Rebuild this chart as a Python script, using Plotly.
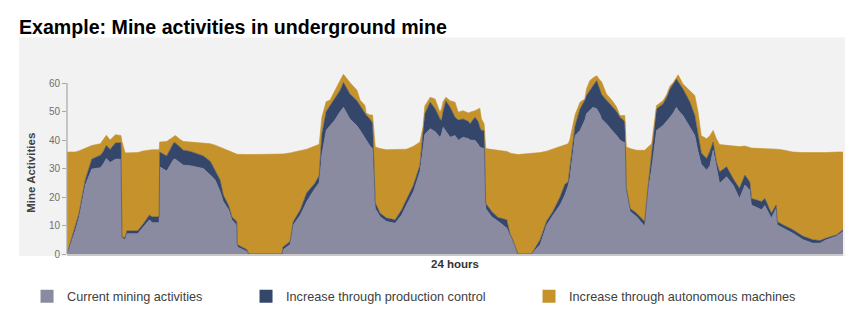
import numpy as np
import plotly.graph_objects as go

# Time of day (minutes over the 24 hours)
minutes = [0, 15, 22, 34, 46, 62, 67, 73, 80, 90, 100, 102, 108, 111, 131, 142, 153, 158, 171, 172,
           185, 198, 201, 210, 216, 229, 253, 266, 275, 284, 290, 300, 306, 315, 316, 334, 337, 399, 401, 414,
           420, 433, 445, 460, 468, 473, 481, 488, 497, 507, 513, 525, 538, 544, 553, 555, 562, 567, 572, 581,
           593, 609, 621, 630, 643, 655, 661, 664, 674, 683, 692, 695, 698, 703, 711, 720, 726, 735, 745, 748,
           757, 763, 766, 769, 774, 777, 788, 800, 816, 822, 825, 837, 862, 878, 890, 902, 915, 924, 930, 933,
           943, 952, 961, 964, 970, 976, 983, 989, 992, 1001, 1014, 1020, 1026, 1032, 1035, 1038, 1045, 1057, 1072, 1078,
           1085, 1094, 1106, 1113, 1119, 1125, 1131, 1134, 1143, 1156, 1165, 1171, 1177, 1187, 1193, 1199, 1205, 1211, 1224, 1236,
           1248, 1258, 1267, 1270, 1289, 1295, 1307, 1316, 1318, 1329, 1347, 1366, 1384, 1397, 1409, 1428, 1440]

# Current mining activities (level)
current = [0, 8, 12.6, 24.2, 29.8, 30.3, 31.5, 33.5, 32.1, 33.3, 33.3, 5.6, 5, 7.1, 7.1, 9.7, 12, 11, 11, 30.6,
           29.1, 33.3, 33.3, 32, 31.2, 31, 30, 27.7, 26, 22, 18.4, 15.5, 12, 10, 2.5, 0.9, 0, 0, 1.5, 3.3,
           10.2, 13.7, 18.4, 23, 25, 35, 43.4, 45, 47, 50, 51.5, 47.4, 45, 43.4, 40.5, 40, 38, 37, 16, 13.1,
           11.4, 10.8, 13.7, 17.2, 21.9, 29, 38, 42, 44, 43, 41, 42, 44.5, 43, 41, 41.6, 39.9, 41, 40.5, 40,
           39.9, 38.5, 37.6, 37.3, 37, 16, 13.1, 11.5, 9.1, 6.5, 5.6, 0, 0, 3.3, 10.2, 13.7, 17.2, 20.7, 24, 26.5,
           41.6, 43.4, 47, 49.2, 50.5, 51.5, 51, 49, 47.4, 45.7, 42.8, 41.6, 40, 39.3, 39.3, 21.9, 14.9, 13.1, 9.7, 22,
           30, 43.4, 45.1, 46.5, 48, 49.5, 51.5, 50.5, 48.6, 44.5, 41.6, 36, 31.5, 29.4, 31, 36.4, 30, 24.8, 27.1, 24.2,
           19.5, 24.2, 22.4, 17.2, 15.5, 17, 12.6, 16, 10.2, 9.1, 7.3, 5, 3.8, 3.8, 5, 6.2, 7.9]

# Level including the increase through production control
with_control = [0, 9, 14, 26, 33.3, 34.7, 35.8, 38.1, 36.7, 39, 39, 5.9, 5.8, 8.1, 8.1, 10.7, 13.7, 13, 13, 35.8,
                34.4, 39, 39, 37.5, 36.4, 36, 34.4, 32.5, 29.4, 26, 20.7, 17, 13, 11.4, 3.3, 1.5, 0, 0, 2.5, 4.4,
                11.4, 15.5, 21.5, 24.8, 27.5, 42, 50, 52, 54.4, 57.5, 60.2, 56.2, 53.8, 52, 49.2, 48.8, 47.4, 46, 18, 14.3,
                12.6, 12, 15.5, 19, 24.2, 31.2, 42, 49.2, 53.3, 51, 47.5, 46.9, 50, 53.8, 51.5, 48, 47, 47.4, 46.5, 45.7,
                48, 46.5, 44.5, 43.4, 43.4, 17.8, 14.9, 12.8, 12, 7, 6, 0, 0, 5, 11.5, 15, 20, 24.5, 25.3, 30,
                45, 50.9, 54, 55.6, 57.5, 59, 60.8, 57.3, 56, 54, 51, 50, 48, 46.9, 46.5, 23, 16, 14.3, 11.4, 23,
                34.7, 50.9, 52.7, 55, 57.9, 59.5, 61.4, 60.5, 57.9, 53.3, 48.6, 42, 35.5, 33.5, 36, 39.3, 32.3, 28.8, 30.6, 26.5,
                23, 27.7, 25.3, 19.5, 18.4, 19.5, 14.3, 17.2, 11.4, 10.2, 8.5, 6.2, 5, 4.7, 5.6, 6.7, 8.5]

# Level including the increase through autonomous machines
with_autonomous = [35.8, 35.8, 36.2, 37.2, 38.1, 38.7, 40, 41.7, 40, 41.9, 41.6, 39.5, 35.5, 35.5, 35.6, 36.2, 36.6, 36.6, 36.6, 39.3,
                   39.5, 41, 41.6, 40.2, 39.5, 39.3, 38.9, 38.7, 38.2, 37.5, 37, 36.3, 35.8, 35.2, 35, 34.9, 34.9, 35, 35.1, 35.5,
                   35.8, 36.2, 36.8, 37.9, 38.5, 48, 53.5, 54, 57.5, 61, 63.1, 60.2, 57.5, 54, 52.1, 49.5, 48.8, 48.8, 37.6, 37,
                   36.6, 36.6, 36.6, 36.8, 37.8, 39.3, 45, 52, 55, 54.4, 49.8, 51, 53.5, 55, 53.8, 53.3, 49.8, 50.3, 49.5, 49.8,
                   50.3, 51, 51.2, 47.4, 45.7, 37, 36.7, 36.4, 36, 35.5, 35.3, 34.9, 35.2, 35.6, 36.1, 36.8, 37.6, 38.2, 38.7, 40,
                   49, 53.3, 54.4, 57.9, 60.8, 61.8, 62.6, 61, 60.5, 56.2, 53.3, 51.5, 48.6, 48.6, 48.6, 37.6, 37, 36.4, 36.4, 37.5,
                   38.7, 52.1, 53.8, 56, 59, 60.2, 62, 62.9, 59.7, 57.3, 55.6, 49.8, 41.5, 40.5, 41.5, 43.4, 40.5, 38.4, 38.2, 37.9,
                   37.7, 37.9, 37.2, 37.2, 37, 37, 37, 37, 36.8, 36.5, 35.8, 35.6, 35.5, 35.5, 35.6, 35.8, 35.8]

series_names = ["Current mining activities",
                "Increase through production control",
                "Increase through autonomous machines"]
series_colors = ["#8a8aa1", "#34476b", "#c5922b"]
y_ticks = [0, 10, 20, 30, 40, 50, 60]

cur = np.array(current)
ctl = np.array(with_control)
aut = np.array(with_autonomous)
layers = [cur, np.round(ctl - cur, 2), np.round(aut - ctl, 2)]

FONT = "Liberation Sans, Arial, sans-serif"

fig = go.Figure()
for name, vals, col in zip(series_names, layers, series_colors):
    fig.add_trace(go.Scatter(
        x=minutes, y=vals, name=name, stackgroup="one", mode="lines",
        line=dict(color=col, width=0.6), fillcolor=col, showlegend=False,
        hoverinfo="skip"))

legend_ids = ["legend", "legend2", "legend3"]
legend_x = [-0.0515, 0.2307, 0.5954]
for name, col, lid in zip(series_names, series_colors, legend_ids):
    fig.add_trace(go.Scatter(
        x=[None], y=[None], mode="markers", name=name, legend=lid,
        marker=dict(symbol="square", size=13, color=col), showlegend=True))

legend_common = dict(orientation="h", yanchor="middle", y=-0.226, xanchor="left",
                     bgcolor="rgba(0,0,0,0)", borderwidth=0,
                     font=dict(family=FONT, size=12.7, color="#404040"))

fig.update_layout(
    width=865, height=323,
    margin=dict(l=67, r=22, t=66, b=66),
    paper_bgcolor="white", plot_bgcolor="#f2f2f2",
    font=dict(family=FONT),
    title=dict(text="<b>Example: Mine activities in underground mine</b>",
               font=dict(family=FONT, size=19.6, color="black"),
               xref="container", x=19 / 865, xanchor="left",
               yref="container", y=1 - 27 / 323, yanchor="middle"),
    xaxis=dict(range=[0, 1440], showgrid=False, zeroline=False, showticklabels=False,
               ticks="", showline=True, linecolor="#c8c8c8", linewidth=2,
               title=dict(text="<b>24 hours</b>", standoff=5,
                          font=dict(family=FONT, size=11.5, color="#333333"))),
    yaxis=dict(range=[0, 66], tickvals=y_ticks, showgrid=False, zeroline=False,
               ticks="outside", ticklen=4, tickcolor="#a6a6a6", showline=False,
               tickfont=dict(family=FONT, size=10, color="#6f6f6f")),
    legend=dict(x=legend_x[0], **legend_common),
    legend2=dict(x=legend_x[1], **legend_common),
    legend3=dict(x=legend_x[2], **legend_common),
    shapes=[
        dict(type="rect", xref="paper", yref="paper", x0=-0.0619, x1=1.0026,
             y0=-0.0105, y1=1.1518, fillcolor="#f2f2f2", line=dict(width=0), layer="below"),
        dict(type="line", xref="paper", yref="y", x0=0, x1=0, y0=0, y1=60,
             line=dict(color="#a6a6a6", width=1.2)),
    ],
    annotations=[
        dict(text="<b>Mine Activities</b>", textangle=-90, xref="paper", yref="y",
             x=0, y=28.5, xshift=-36, xanchor="center", yanchor="middle", showarrow=False,
             font=dict(family=FONT, size=11.5, color="#404040")),
    ],
)

fig.write_html("out.html", config={"displayModeBar": False})
